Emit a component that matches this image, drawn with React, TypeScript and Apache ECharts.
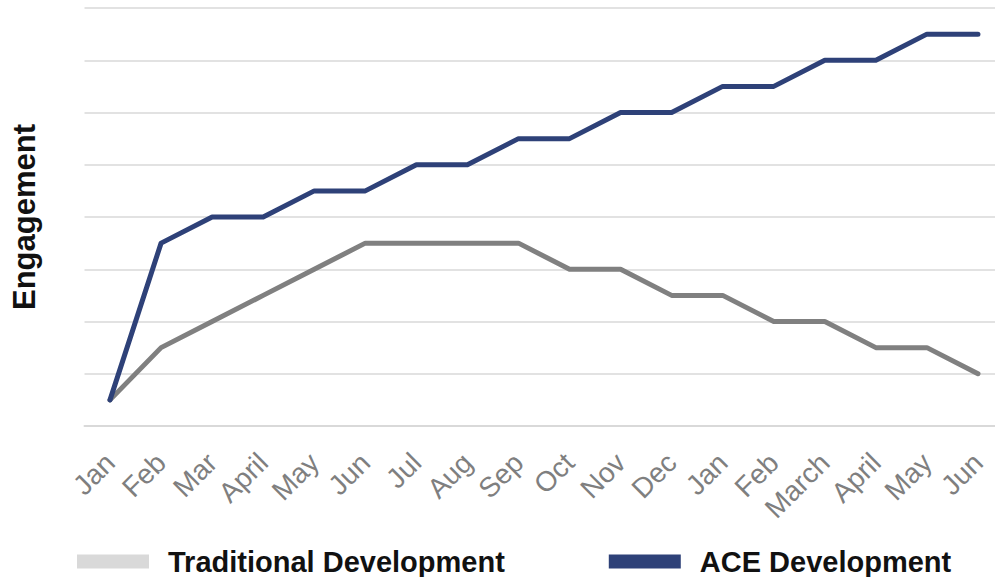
import React, { useEffect, useRef } from "react";
import * as echarts from "echarts";

const months = ["Jan", "Feb", "Mar", "April", "May", "Jun", "Jul", "Aug", "Sep", "Oct", "Nov", "Dec", "Jan", "Feb", "March", "April", "May", "Jun"];
const traditional = [0.5, 1.5, 2, 2.5, 3, 3.5, 3.5, 3.5, 3.5, 3, 3, 2.5, 2.5, 2, 2, 1.5, 1.5, 1];
const ace = [0.5, 3.5, 4, 4, 4.5, 4.5, 5, 5, 5.5, 5.5, 6, 6, 6.5, 6.5, 7, 7, 7.5, 7.5];
const seriesNames = ["Traditional Development", "ACE Development"];

export default function App() {
  const ref = useRef<HTMLDivElement>(null);
  useEffect(() => {
    if (!ref.current) return;
    const chart = echarts.init(ref.current, undefined, { renderer: "svg" });
    const font = "'Liberation Sans', Arial, sans-serif";
    chart.setOption({
      animation: false,
      textStyle: { fontFamily: font },
      grid: { left: 84.5, top: 8, width: 919, height: 418, containLabel: false, outerBoundsMode: "none" },
      legend: {
        left: 72,
        top: 542,
        icon: "rect",
        itemWidth: 72,
        itemHeight: 14,
        itemGap: 104,
        textStyle: { fontSize: 29, fontWeight: "bold", color: "#111", fontFamily: font, padding: [0, 0, 0, 14] },
        data: [
          { name: seriesNames[0], itemStyle: { color: "#d9d9d9" } },
          { name: seriesNames[1], itemStyle: { color: "#2e4178" } },
        ],
      },
      xAxis: {
        type: "category",
        data: months,
        boundaryGap: true,
        axisLine: { show: true, lineStyle: { color: "#d9d9d9", width: 2 } },
        axisTick: { show: false },
        axisLabel: { rotate: 45, fontSize: 28, color: "#7f7f7f", margin: 32, fontFamily: font, interval: 0 },
      },
      yAxis: {
        type: "value",
        min: 0,
        max: 8,
        interval: 1,
        name: "Engagement",
        nameLocation: "middle",
        nameGap: 45,
        nameTextStyle: { fontSize: 31, fontWeight: "bold", color: "#111", fontFamily: font },
        axisLabel: { show: false },
        axisLine: { show: false },
        axisTick: { show: false },
        splitLine: { lineStyle: { color: "#d9d9d9", width: 1.5 } },
      },
      series: [
        {
          name: seriesNames[0],
          type: "line",
          data: traditional,
          symbol: "none",
          lineStyle: { color: "#808080", width: 5, cap: "round", join: "round" },
          itemStyle: { color: "#808080" },
          z: 2,
        },
        {
          name: seriesNames[1],
          type: "line",
          data: ace,
          symbol: "none",
          lineStyle: { color: "#2e4178", width: 5, cap: "round", join: "round" },
          itemStyle: { color: "#2e4178" },
          z: 3,
        },
      ],
    });
    return () => chart.dispose();
  }, []);
  return <div ref={ref} style={{ width: 995, height: 577, position: "absolute", left: 0, top: 0 }} />;
}
